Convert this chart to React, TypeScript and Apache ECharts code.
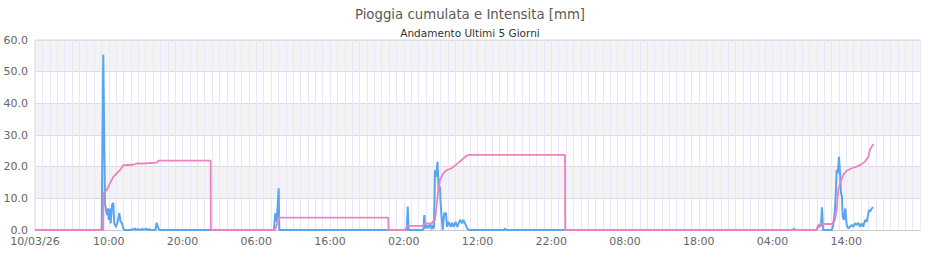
import React, { useEffect, useRef } from "react";
import * as echarts from "echarts";

const titleText = "Pioggia cumulata e Intensita [mm]";
const subtitleText = "Andamento Ultimi 5 Giorni";

// x positions are hours since 10/03/26 00:00
const xTickLabels = ["10/03/26", "10:00", "20:00", "06:00", "16:00", "02:00", "12:00", "22:00", "08:00", "18:00", "04:00", "14:00"];

// Intensity (blue)
const intensityHours = [
  0, 9.04, 9.26, 9.49, 9.63, 9.76, 9.9, 9.99, 10.13, 10.26, 10.44, 10.62, 10.75, 10.98, 11.21, 11.43, 11.62, 11.8, 11.97, 12.16,
  13.0, 13.15, 13.29, 13.56, 13.7, 13.93, 14.1, 14.6, 14.78, 15.05, 15.25, 15.5, 15.66, 16.34, 16.5, 16.68, 16.85,
  32.4, 32.58, 32.77, 33.04, 33.13,
  50.4, 50.54, 50.67, 52.65, 52.79, 52.92, 53.11, 53.33, 53.56, 53.79, 53.93, 54.1, 54.24, 54.37, 54.58, 54.74, 54.92, 55.0,
  55.28, 55.5, 55.73, 55.86, 56.09, 56.37, 56.58, 56.77, 57.04, 57.26, 57.63, 57.9, 58.08, 58.4, 58.67, 58.98,
  63.59, 63.73, 63.86,
  102.78, 102.92, 103.05,
  105.99, 106.21, 106.44, 106.58, 106.71, 106.85, 108.03, 108.24, 108.47, 108.61, 108.7, 108.84, 109.02, 109.15, 109.29, 109.42,
  109.52, 109.69, 109.87, 110.06, 110.28, 110.51, 110.74, 110.96, 111.19, 111.42, 111.63, 111.86, 112.09, 112.31, 112.54, 112.77,
  112.91, 113.08, 113.22, 113.45, 113.67,
];
const intensityValues = [
  0, 0, 55.3, 8.4, 6.3, 4.7, 6.8, 3.2, 6.8, 2.1, 7.9, 8.6, 2.1, 1.0, 2.6, 5.3, 2.6, 2.1, 0.5, 0,
  0, 0.3, 0, 0.5, 0, 0.3, 0, 0.3, 0, 0.5, 0, 0.3, 0, 0, 2.3, 1.0, 0,
  0, 5.3, 2.6, 13.2, 0,
  0, 7.4, 0, 0, 4.7, 0.5, 1.6, 0.5, 2.1, 0.2, 1.6, 0.5, 18.9, 16.8, 21.6, 12.6, 13.7, 8.4,
  0, 5.3, 5.3, 1.0, 2.6, 1.0, 2.3, 1.0, 2.6, 1.0, 3.2, 2.1, 3.2, 1.6, 0.2, 0,
  0, 0.5, 0,
  0, 0.5, 0,
  0, 1.6, 1.0, 1.6, 7.2, 0, 0, 1.6, 6.3, 13.2, 18.9, 17.9, 23.1, 17.9, 11.6, 10.5,
  4.2, 3.2, 6.8, 1.6, 0.5, 1.0, 1.6, 1.0, 2.1, 1.6, 2.3, 1.0, 2.1, 1.0, 3.2, 2.6,
  4.2, 6.3, 5.8, 6.8, 7.2,
];

// Cumulated rain (pink)
const cumulHours = [
  0, 9.26, 9.29, 9.72, 10.17, 10.62, 11.08, 11.53, 11.97, 13.33, 13.79, 14.68, 16.5, 16.72, 23.82, 23.84,
  32.54, 33.13, 47.9, 47.93,
  50.17, 50.48, 52.65, 52.88, 53.79, 54.0, 54.24, 54.47, 54.68, 54.92, 55.36, 55.82, 56.5, 57.18, 57.86, 58.31, 58.75, 71.86, 71.89,
  105.99, 106.44, 108.03, 108.47, 108.7, 108.92, 109.15, 109.6, 110.06, 110.74, 111.42, 112.09, 112.54, 113.0, 113.22, 113.67,
];
const cumulValues = [
  0, 0, 11.6, 12.6, 14.7, 16.8, 17.9, 18.9, 20.5, 20.6, 21.0, 21.0, 21.3, 21.9, 21.9, 0,
  0, 3.9, 3.9, 0,
  0, 1.3, 1.3, 2.1, 2.1, 2.85, 3.0, 7.9, 12.6, 15.8, 17.9, 18.9, 19.5, 20.8, 22.1, 23.1, 23.7, 23.7, 0,
  0, 1.9, 1.9, 3.2, 6.3, 12.6, 14.7, 17.4, 18.7, 19.5, 20.0, 20.8, 21.6, 23.1, 25.3, 27.2,
];

const FONT = "DejaVu Sans";

export default function App() {
  const ref = useRef<HTMLDivElement>(null);
  useEffect(() => {
    if (!ref.current) return;
    const chart = echarts.init(ref.current, null, { renderer: "svg" });
    const blue = intensityHours.map((h, i) => [h, intensityValues[i]]);
    const pink = cumulHours.map((h, i) => [h, cumulValues[i]]);
    chart.setOption({
      animation: false,
      backgroundColor: "#ffffff",
      title: [
        {
          text: titleText,
          left: "center",
          top: 3,
          textStyle: { fontFamily: FONT, fontSize: 13.3, fontWeight: "normal", color: "#5a5a5a" },
        },
        {
          text: subtitleText,
          left: "center",
          top: 22,
          textStyle: { fontFamily: FONT, fontSize: 10.5, fontWeight: "normal", color: "#333333" },
        },
      ],
      grid: {
        left: 35,
        right: 20,
        top: 40,
        bottom: 30,
        show: true,
        borderColor: "#d9d9d9",
        borderWidth: 1,
        backgroundColor: "transparent",
        outerBoundsMode: "none",
      },
      xAxis: {
        type: "value",
        min: 0,
        max: 120,
        interval: 1,
        z: 1,
        axisLine: { show: true, lineStyle: { color: "#cccccc" } },
        axisTick: { show: false },
        splitLine: { show: true, lineStyle: { color: "#e8e6f8", width: 1 } },
        axisLabel: {
          fontFamily: FONT,
          fontSize: 11,
          color: "#666666",
          margin: 6,
          showMinLabel: true,
          showMaxLabel: false,
          formatter: (v: number) => {
            const r = Math.round(v);
            if (Math.abs(v - r) > 1e-6 || r % 10 !== 0) return "";
            const idx = r / 10;
            return idx < xTickLabels.length ? xTickLabels[idx] : "";
          },
        },
      },
      yAxis: {
        type: "value",
        min: 0,
        max: 60,
        interval: 10,
        z: 0,
        axisLine: { show: false },
        axisTick: { show: false },
        splitLine: { show: true, lineStyle: { color: "#dcdcdc" } },
        splitArea: { show: true, areaStyle: { color: ["#ffffff", "#f3f3f5"] } },
        axisLabel: {
          fontFamily: FONT,
          fontSize: 11,
          color: "#666666",
          margin: 7,
          formatter: (v: number) => v.toFixed(1),
        },
      },
      series: [
        {
          name: "Intensita",
          type: "line",
          data: blue,
          showSymbol: false,
          symbol: "none",
          lineStyle: { color: "#5aa5ef", width: 2 },
          itemStyle: { color: "#5aa5ef" },
          z: 2,
        },
        {
          name: "Pioggia cumulata",
          type: "line",
          data: pink,
          showSymbol: false,
          symbol: "none",
          lineStyle: { color: "#ee82bf", width: 1.8 },
          itemStyle: { color: "#ee82bf" },
          z: 3,
        },
      ],
    });
    return () => chart.dispose();
  }, []);
  return (
    <div
      ref={ref}
      style={{ position: "fixed", left: 0, top: 0, width: 940, height: 260 }}
    />
  );
}
